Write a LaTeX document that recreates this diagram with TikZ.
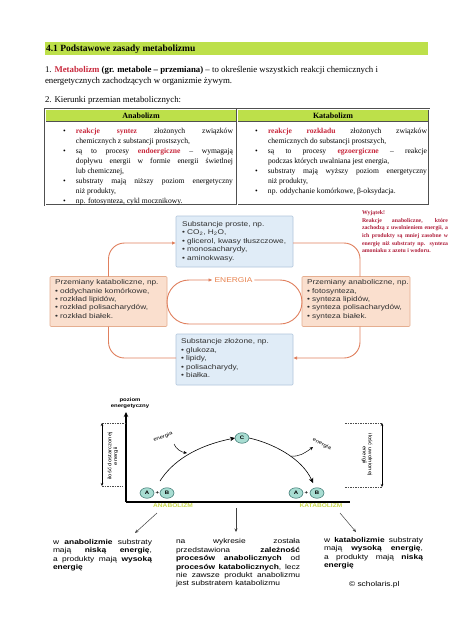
\documentclass[tikz,border=0pt]{standalone}
\usepackage{fontspec}
\setmainfont{Liberation Serif}
\newfontfamily\wsans[FakeStretch=1.2]{Liberation Sans}
\usetikzlibrary{arrows.meta,shapes.geometric}
\definecolor{lime}{HTML}{BDE04A}
\definecolor{redtxt}{HTML}{C8283C}
\definecolor{orng}{HTML}{E0805E}
\definecolor{orngtxt}{HTML}{E8824E}
\definecolor{peach}{HTML}{FADFCE}
\definecolor{peachb}{HTML}{E5AE90}
\definecolor{bluef}{HTML}{E0ECF7}
\definecolor{blueb}{HTML}{B0C6DC}
\definecolor{tealf}{HTML}{A8DDD2}
\definecolor{teald}{HTML}{2E6B66}
\definecolor{notec}{HTML}{B0203C}
\definecolor{olivec}{HTML}{CAD84C}
\definecolor{tblline}{HTML}{505050}
\definecolor{boxink}{HTML}{303030}
\newcommand\itm[1]{\par\noindent\hangindent=13pt\hangafter=1\strut\makebox[13pt][l]{\textbullet}#1\par}
\newcommand\rb[1]{\textcolor{redtxt}{\textbf{#1}}}
\begin{document}
\begin{tikzpicture}[x=1pt,y=-1pt,
  every node/.style={inner sep=0pt,outer sep=0pt},
  tcell/.style={anchor=north west,text width=#1,align=justify,font=\fontsize{7.6}{10}\selectfont},
  boxtxt/.style={anchor=north west,align=left,text=boxink,font=\wsans\fontsize{6.9}{8.4}\selectfont},
  bluebox/.style={draw=blueb,fill=bluef,line width=0.6,rounded corners=1pt,anchor=north west},
  peachbox/.style={draw=peachb,fill=peach,line width=0.6,rounded corners=1pt,anchor=north west},
  conn/.style={draw=orng,line width=0.9,rounded corners=16},
  otip/.style={-{Latex[length=4pt,width=3.5pt]}},
  ell/.style={ellipse,minimum width=14pt,minimum height=10.5pt,fill=tealf,draw=teald,line width=0.5,font=\wsans\bfseries\fontsize{5}{5}\selectfont},
  small/.style={font=\wsans\fontsize{5}{5.8}\selectfont},
  btxt/.style={anchor=north west,align=justify,font=\wsans\fontsize{7}{8.4}\selectfont},
  ptr/.style={draw=black!75,line width=0.5,-{Stealth[length=3.5pt,width=3pt]}},
  gtip/.style={-{Stealth[length=5pt,width=4.5pt]}}
]
\useasboundingbox (0,0) rectangle (474,632);
\fill[white] (0,0) rectangle (474,632);

% title bar
\fill[lime] (45,42) rectangle (428,54.5);
\node[anchor=base west,font=\fontsize{9.5}{11}\selectfont\bfseries] (title) at (46,51.5) {4.1 Podstawowe zasady metabolizmu};

\node[anchor=north west,align=left,font=\fontsize{8.8}{11}\selectfont] (def) at (45,64.8)
 {\strut 1. \rb{Metabolizm} \textbf{(gr. metabole – przemiana)} – to określenie wszystkich reakcji chemicznych i\\energetycznych zachodzących w organizmie żywym.};
\node[anchor=base west,font=\fontsize{8.8}{11}\selectfont] (kier) at (45,102.5) {2. Kierunki przemian metabolicznych:};

% table
\fill[lime] (45,109) rectangle (429,121);
\draw[tblline,line width=0.5] (45,121) -- (429,121);
\draw[tblline,line width=0.4,double=white,double distance=0.7pt] (45,109) rectangle (429,205);
\draw[tblline,line width=0.4,double=white,double distance=0.7pt] (237,109) -- (237,205);
\node[anchor=base,font=\fontsize{8}{9}\selectfont\bfseries] (hA) at (141,118.5) {Anabolizm};
\node[anchor=base,font=\fontsize{8}{9}\selectfont\bfseries] (hK) at (333,118.5) {Katabolizm};

\node[tcell=170pt] (cA) at (63,123) {%
\itm{\rb{reakcje syntez} złożonych związków\linebreak chemicznych z substancji prostszych,}%
\itm{są to procesy \rb{endoergiczne} – wymagają\linebreak dopływu energii w formie energii świetlnej\linebreak lub chemicznej,}%
\itm{substraty mają niższy poziom energetyczny\linebreak niż produkty,}%
\itm{np. fotosynteza, cykl mocznikowy.}};
\node[tcell=172pt] (cK) at (255,123) {%
\itm{\rb{reakcje rozkładu} złożonych związków\linebreak chemicznych do substancji prostszych,}%
\itm{są to procesy \rb{egzoergiczne} – reakcje\linebreak podczas których uwalniana jest energia,}%
\itm{substraty mają wyższy poziom energetyczny\linebreak niż produkty,}%
\itm{np. oddychanie komórkowe, β-oksydacja.}};

% note
\node[anchor=north west,text width=86pt,align=justify,text=notec,font=\fontsize{5.8}{7.7}\selectfont\bfseries] (note) at (362,209.1)
{\strut Wyjątek!\\Reakcje anaboliczne, które\linebreak zachodzą z uwolnieniem energii, a\linebreak ich produkty są mniej zasobne w\linebreak energię niż substraty np. synteza\linebreak amoniaku z azotu i wodoru.};

% cycle boxes
\node[bluebox,minimum width=117pt,minimum height=51pt] (top) at (176,216) {};
\node[boxtxt] (topt) at (182,220.6)
{\strut Substancje proste, np.\\\textbullet\ CO\textsubscript{2}, H\textsubscript{2}O,\\\textbullet\ glicerol, kwasy tłuszczowe,\\\textbullet\ monosacharydy,\\\textbullet\ aminokwasy.};
\node[bluebox,minimum width=117pt,minimum height=51pt] (zl) at (176,334) {};
\node[boxtxt] (zlt) at (181,338.1)
{\strut Substancje złożone, np.\\\textbullet\ glukoza,\\\textbullet\ lipidy,\\\textbullet\ polisacharydy,\\\textbullet\ białka.};
\node[peachbox,minimum width=117pt,minimum height=50pt] (kat) at (50,276.5) {};
\node[boxtxt] (katt) at (55,278.9)
{\strut Przemiany kataboliczne, np.\\\textbullet\ oddychanie komórkowe,\\\textbullet\ rozkład lipidów,\\\textbullet\ rozkład polisacharydów,\\\textbullet\ rozkład białek.};
\node[peachbox,minimum width=108pt,minimum height=50pt] (ana) at (302,276.5) {};
\node[boxtxt] (anat) at (307,278.9)
{\strut Przemiany anaboliczne, np.\\\textbullet\ fotosynteza,\\\textbullet\ synteza lipidów,\\\textbullet\ synteza polisacharydów,\\\textbullet\ synteza białek.};

\node[font=\wsans\fontsize{7}{8}\selectfont,text=orngtxt,fill=white,inner xsep=2pt] (en) at (233.5,280) {ENERGIA};
\draw[conn,rounded corners=22,otip] (en.east) -- (302,280) -- (302,324) -- (167,324) -- (167,280) -- (en.west);

\draw[conn,otip] (kat.north) |- ([yshift=-1.5pt]top.west);
\draw[conn] ([yshift=-1.5pt]top.east) -| ([xshift=4pt]ana.north);
\draw[conn,otip] ([xshift=4pt]ana.south) |- ([yshift=1.5pt]zl.east);
\draw[conn] ([yshift=1.5pt]zl.west) -| (kat.south);

% energy graph
\coordinate (O) at (126,502);
\coordinate (Ytop) at (126,412);
\coordinate (Xend) at (350,502);
\draw[line width=1.4,gtip] (O) -- (Ytop);
\draw[line width=1.3] (O) -- (Xend);
\node[font=\wsans\bfseries\fontsize{5}{6}\selectfont,align=center] (poz) at (130,403) {poziom\\energetyczny};

\coordinate (l1) at (102,423); \coordinate (l2) at (102,486);
\coordinate (l1e) at (125,423); \coordinate (l2e) at (123,486);
\draw[black!70,line width=0.4,dash pattern=on 1.5pt off 1pt] (l1) -- (l1e) (l2) -- (l2e);
\draw[line width=0.5,{Stealth[length=3pt,width=2.5pt]}-{Stealth[length=3pt,width=2.5pt]}] (l1) -- (l2);
\node[small,rotate=90,align=center] (lt) at (113,456) {ilość dostarczonej\\energii};

\coordinate (r1) at (382,423); \coordinate (r2) at (382,487);
\coordinate (r1e) at (345,423); \coordinate (r2e) at (345,487);
\draw[black!70,line width=0.4,dash pattern=on 1.5pt off 1pt] (r1e) -- (r1) (r2e) -- (r2);
\draw[line width=0.5,{Stealth[length=3pt,width=2.5pt]}-{Stealth[length=3pt,width=2.5pt]}] (r1) -- (r2);
\node[small,rotate=-90,align=center] (rt) at (367,455) {ilość uwolnionej\\energii};

\node[ell] (A1) at (147,493) {A};
\node[font=\wsans\bfseries\fontsize{5}{5}\selectfont] (p1) at (157.3,493.5) {+};
\node[ell] (B1) at (167,493) {B};
\node[ell] (C) at (242,438) {C};
\node[ell] (A2) at (296,493) {A};
\node[font=\wsans\bfseries\fontsize{5}{5}\selectfont] (p2) at (306.3,493.5) {+};
\node[ell] (B2) at (317,493) {B};

\coordinate (s1) at (160,481);
\draw[line width=0.6,gtip] (s1) .. controls (172,462) and (195,446) .. (C.west);
\coordinate (s2) at (313,483);
\draw[line width=0.6,gtip] (C.east) .. controls (272,443) and (302,458) .. (s2);
\coordinate (e1s) at (174,444); \coordinate (e1e) at (187,453);
\draw[line width=0.5,-{Stealth[length=3.5pt,width=3pt]}] (e1s) .. controls (176,449) and (181,452) .. (e1e);
\coordinate (e2s) at (291,456); \coordinate (e2e) at (313,447);
\draw[line width=0.5,-{Stealth[length=3.5pt,width=3pt]}] (e2s) .. controls (299,457) and (305,453) .. (e2e);
\node[small,rotate=20] (enl) at (163,437) {energia};
\node[small,rotate=-27] (enr) at (322,444) {energia};

\node[font=\wsans\bfseries\fontsize{5.5}{6}\selectfont,text=olivec] (anab) at (173,506) {ANABOLIZM};
\node[font=\wsans\bfseries\fontsize{5.5}{6}\selectfont,text=olivec] (katab) at (321,506) {KATABOLIZM};

\coordinate (pa1) at (157,513); \coordinate (pa2) at (135,533);
\coordinate (pm1) at (236,508); \coordinate (pm2) at (236,532);
\coordinate (pk1) at (340,513); \coordinate (pk2) at (356,532);
\draw[ptr] (pa1) -- (pa2);
\draw[ptr] (pm1) -- (pm2);
\draw[ptr] (pk1) -- (pk2);

\node[btxt,text width=99pt] (tl) at (53,538.6)
{\strut w \textbf{anabolizmie} substraty\linebreak mają \textbf{niską energię},\linebreak a produkty mają \textbf{wysoką}\linebreak \textbf{energię}};
\node[btxt,text width=124pt] (tm) at (176,538.1)
{\strut na wykresie została\linebreak przedstawiona \textbf{zależność}\linebreak \textbf{procesów anabolicznych} od\linebreak \textbf{procesów katabolicznych}, lecz\linebreak nie zawsze produkt anabolizmu\linebreak jest substratem katabolizmu};
\node[btxt,text width=99pt] (tr) at (324,536.6)
{\strut w \textbf{katabolizmie} substraty\linebreak mają \textbf{wysoką energię},\linebreak a produkty mają \textbf{niską}\linebreak \textbf{energię}};
\node[anchor=base west,font=\wsans\fontsize{7}{8}\selectfont] (copy) at (349,586.5) {© scholaris.pl};
\end{tikzpicture}
\end{document}
